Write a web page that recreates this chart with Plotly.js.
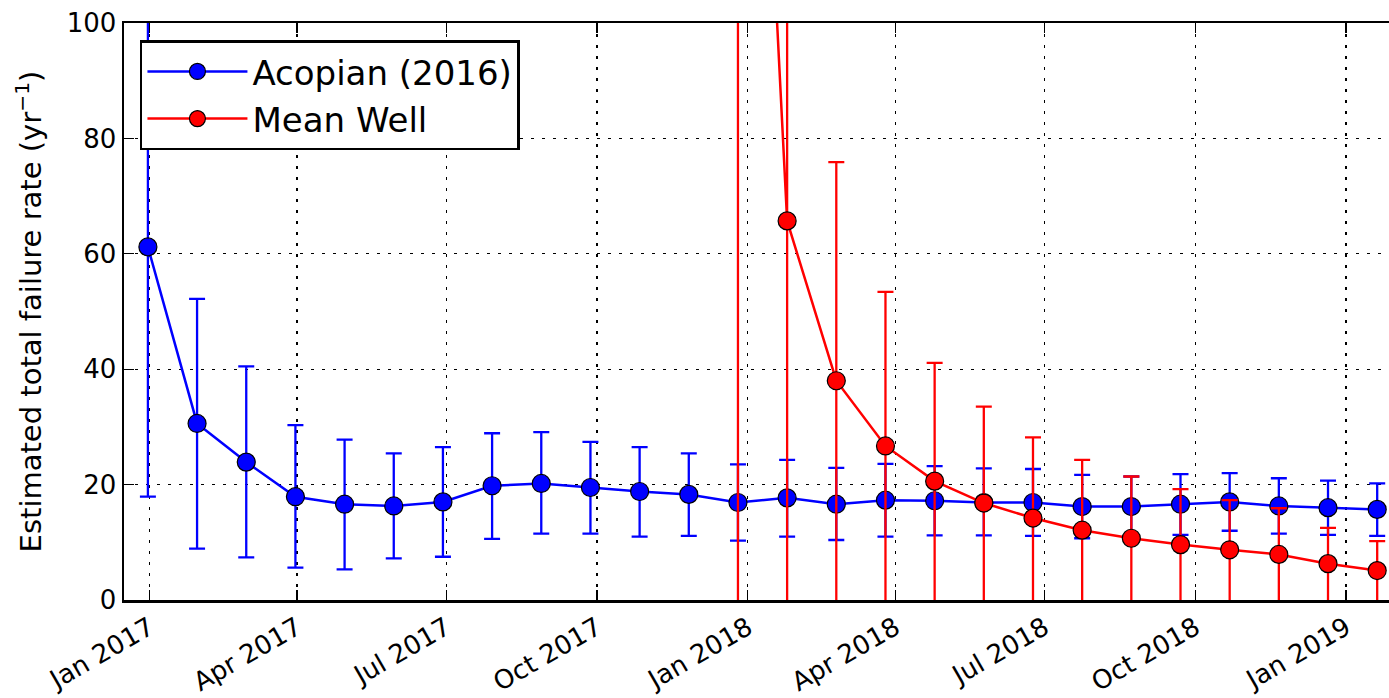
<!DOCTYPE html>
<html>
<head>
<meta charset="utf-8">
<script src="https://cdn.plot.ly/plotly-3.0.1.min.js"></script>
<style>
  html, body { margin: 0; padding: 0; background: #ffffff; }
  #chart { width: 1389px; height: 698px; }
</style>
</head>
<body>
<div id="chart"></div>
<script>
// Sample dates (every 30 days)
const dates = ['2016-12-31','2017-01-30','2017-03-01','2017-03-31','2017-04-30','2017-05-30',
  '2017-06-29','2017-07-29','2017-08-28','2017-09-27','2017-10-27','2017-11-26','2017-12-26',
  '2018-01-25','2018-02-24','2018-03-26','2018-04-25','2018-05-25','2018-06-24','2018-07-24',
  '2018-08-23','2018-09-22','2018-10-22','2018-11-21','2018-12-21','2019-01-20'];

// Acopian (2016): estimate, upper bound, lower bound
const acopian   = [61.2,30.6,23.9,17.9,16.6,16.3,17.0,19.8,20.2,19.5,18.8,18.3,16.9,17.7,16.6,17.3,17.2,16.9,16.9,16.2,16.2,16.6,17.0,16.3,16.0,15.7];
const acopianHi = [104.5,52.2,40.5,30.3,27.8,25.4,26.5,28.9,29.1,27.4,26.5,25.4,23.5,24.3,22.9,23.6,23.2,22.8,22.7,21.7,21.4,21.8,22.0,21.1,20.7,20.2];
const acopianLo = [17.9,8.9,7.4,5.6,5.3,7.2,7.5,10.6,11.5,11.5,11.0,11.1,10.3,11.0,10.4,11.0,11.2,11.2,11.1,10.7,10.8,11.3,12.0,11.5,11.3,11.1];

// Mean Well: estimate, upper bound, lower bound
const meanWell   = [null,null,null,null,null,null,null,null,null,null,null,null,234,65.7,38.0,26.7,20.6,16.8,14.2,12.1,10.7,9.6,8.7,7.9,6.3,5.1];
const meanWellHi = [null,null,null,null,null,null,null,null,null,null,null,null,468,131.4,75.9,53.4,41.1,33.5,28.2,24.3,21.4,19.2,17.3,15.9,12.5,10.2];
const meanWellLo = [null,null,null,null,null,null,null,null,null,null,null,null,0,0,0,0,0,0,0,0,0,0,0,0,0,0];

const seriesNames = ['Acopian (2016)', 'Mean Well'];

function plus(v, hi) { return v.map((d, i) => d == null ? null : hi[i] - d); }
function minus(v, lo) { return v.map((d, i) => d == null ? null : d - lo[i]); }
function zeros(v) { return v.map(d => d == null ? null : 0); }

const FONT = 'DejaVu Sans, Liberation Sans, sans-serif';
const BLUE = '#0000ff', RED = '#ff0000';

const traces = [
  {
    type: 'scatter', mode: 'lines+markers', name: seriesNames[0],
    x: dates, y: acopian,
    line: { color: BLUE, width: 2.5 },
    marker: { color: BLUE, size: 18, line: { color: '#000000', width: 1.2 } },
    error_y: { type: 'data', symmetric: false, array: plus(acopian, acopianHi), arrayminus: minus(acopian, acopianLo),
               color: BLUE, thickness: 2.3, width: 8, visible: true }
  },
  // lower part of the Mean Well error bars (bars reach the axis, no visible cap there)
  {
    type: 'scatter', mode: 'markers', name: seriesNames[1], showlegend: false, hoverinfo: 'skip',
    x: dates, y: meanWell,
    marker: { color: RED, size: 1, opacity: 0 },
    error_y: { type: 'data', symmetric: false, array: zeros(meanWell), arrayminus: minus(meanWell, meanWellLo),
               color: RED, thickness: 2.3, width: 0, visible: true }
  },
  {
    type: 'scatter', mode: 'lines+markers', name: seriesNames[1],
    x: dates, y: meanWell,
    line: { color: RED, width: 2.5 },
    marker: { color: RED, size: 18, line: { color: '#000000', width: 1.2 } },
    error_y: { type: 'data', symmetric: false, array: plus(meanWell, meanWellHi), arrayminus: zeros(meanWell),
               color: RED, thickness: 2.3, width: 8, visible: true },
    connectgaps: false
  }
];

const layout = {
  width: 1389, height: 698,
  margin: { l: 124, r: 0, t: 23, b: 98, pad: 0 },
  paper_bgcolor: '#ffffff', plot_bgcolor: '#ffffff',
  font: { family: FONT, color: '#000000', size: 26 },
  showlegend: true,
  legend: {
    x: 0.0126, y: 0.97, xanchor: 'left', yanchor: 'top',
    bgcolor: '#ffffff', bordercolor: '#000000', borderwidth: 2.5,
    font: { family: FONT, size: 34, color: '#000000' },
    itemwidth: 100, itemsizing: 'trace', tracegroupgap: 0
  },
  xaxis: {
    type: 'date',
    range: ['2016-12-16 10:00', '2019-01-27 05:00'],
    tick0: '2017-01-01', dtick: 'M3', tickformat: '%b %Y',
    tickangle: -30,
    tickfont: { family: FONT, size: 26, color: '#000000' },
    ticks: 'inside', ticklen: 10, tickwidth: 1.2, tickcolor: '#000000',
    showline: true, linecolor: '#000000', linewidth: 2.5, mirror: 'ticks',
    showgrid: true, gridcolor: '#000000', gridwidth: 1.3, griddash: '3px,8px',
    zeroline: false, automargin: false
  },
  yaxis: {
    range: [0, 100], tick0: 0, dtick: 20,
    tickfont: { family: FONT, size: 26, color: '#000000' },
    ticks: 'inside', ticklen: 10, tickwidth: 1.2, tickcolor: '#000000',
    showline: true, linecolor: '#000000', linewidth: 2.5, mirror: false,
    showgrid: true, gridcolor: '#000000', gridwidth: 1.3, griddash: '3px,8px',
    zeroline: false, automargin: true,
    title: { text: 'Estimated total failure rate (yr<sup>\u22121</sup>)', standoff: 17,
             font: { family: FONT, size: 29, color: '#000000' } }
  }
};

Plotly.newPlot('chart', traces, layout, { displayModeBar: false, staticPlot: true });
</script>
</body>
</html>
